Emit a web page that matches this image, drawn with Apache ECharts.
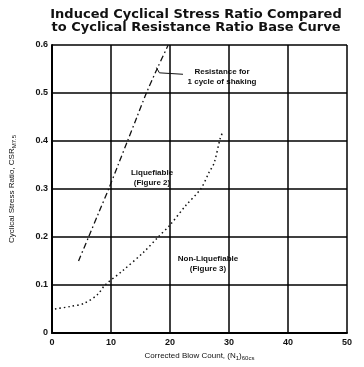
<!DOCTYPE html>
<html>
<head>
<meta charset="utf-8">
<script src="https://cdn.jsdelivr.net/npm/echarts@6/dist/echarts.min.js"></script>
<style>
  html, body { margin: 0; padding: 0; background: #fff; }
  #chart { width: 364px; height: 367px; }
</style>
</head>
<body>
<div id="chart"></div>
<script>
// Resistance for 1 cycle of shaking (dash-dot curve): [(N1)60cs, CSR]
const oneCycleCurve = [
  [4.5, 0.15], [6.2, 0.2], [7.9, 0.25], [9.6, 0.3], [11.2, 0.35],
  [12.8, 0.4], [14.4, 0.45], [16.0, 0.5], [17.8, 0.55], [19.7, 0.6]
];
// Cyclic resistance ratio base curve (dotted curve)
const baseCurve = [
  [0.5, 0.05], [3.0, 0.055], [5.5, 0.062], [7.7, 0.08], [9.0, 0.1],
  [12.0, 0.13], [15.5, 0.168], [18.0, 0.2], [20.0, 0.225], [22.7, 0.266],
  [25.2, 0.3], [26.6, 0.334], [27.5, 0.355], [28.5, 0.405], [29.0, 0.42]
];
// Leader from the dash-dot curve to its note
const leader = [[17.7, 0.553], [18.2, 0.542], [22.2, 0.539]];

const xTicks = [0, 10, 20, 30, 40, 50];
const yTicks = [0, 0.1, 0.2, 0.3, 0.4, 0.5, 0.6];

const titleLines = ['Induced Cyclical Stress Ratio Compared', 'to Cyclical Resistance Ratio Base Curve'];
const notes = {
  oneCycle: ['Resistance for', '1 cycle of shaking'],
  liq: ['Liquefiable', '(Figure 2)'],
  nonLiq: ['Non-Liquefiable', '(Figure 3)']
};

const chart = echarts.init(document.getElementById('chart'), null, { renderer: 'canvas' });
const FONT = 'Liberation Sans, Arial, sans-serif';
const TITLE_FONT = 'DejaVu Sans, Liberation Sans, sans-serif';

function note(lines, x, y) {
  return {
    type: 'text', x: x, y: y,
    style: {
      text: lines.join('\n'), font: 'bold 8px ' + FONT, fill: '#111',
      align: 'center', verticalAlign: 'middle', lineHeight: 10
    }
  };
}

chart.setOption({
  backgroundColor: '#ffffff',
  animation: false,
  title: {
    text: titleLines.join('\n'),
    left: 191,
    top: 3,
    textAlign: 'center',
    textStyle: { fontFamily: TITLE_FONT, fontWeight: 'bold', fontSize: 13, color: '#111', lineHeight: 13 }
  },
  grid: { left: 47, right: 17, top: 45, bottom: 34 },
  xAxis: {
    type: 'value',
    min: xTicks[0], max: xTicks[xTicks.length - 1], interval: 10,
    name: '{a|Corrected Blow Count, (N}{s|1}{a|)}{s|60cs}',
    nameLocation: 'middle',
    nameGap: 17,
    nameTextStyle: {
      rich: {
        a: { fontFamily: FONT, fontSize: 8, color: '#111' },
        s: { fontFamily: FONT, fontSize: 6, color: '#111', verticalAlign: 'bottom', padding: [4, 0, 0, 0] }
      }
    },
    axisLine: { show: true, lineStyle: { color: '#000', width: 2 } },
    axisTick: { show: false },
    axisLabel: { fontFamily: FONT, fontWeight: 'bold', fontSize: 9, color: '#111', margin: 5 },
    splitLine: { show: true, lineStyle: { color: '#000', width: 1.5 } }
  },
  yAxis: {
    type: 'value',
    min: yTicks[0], max: yTicks[yTicks.length - 1], interval: 0.1,
    name: '{a|Cyclical Stress Ratio, CSR}{s|M7.5}',
    nameLocation: 'middle',
    nameGap: 35,
    nameTextStyle: {
      rich: {
        a: { fontFamily: FONT, fontSize: 8, color: '#111' },
        s: { fontFamily: FONT, fontSize: 6, color: '#111', verticalAlign: 'bottom', padding: [4, 0, 0, 0] }
      }
    },
    axisLine: { show: true, lineStyle: { color: '#000', width: 2 } },
    axisTick: { show: false },
    axisLabel: {
      fontFamily: FONT, fontWeight: 'bold', fontSize: 9, color: '#111', margin: 4,
      formatter: v => (v === 0 ? '0' : v.toFixed(1))
    },
    splitLine: { show: true, lineStyle: { color: '#000', width: 1.5 } }
  },
  series: [
    {
      type: 'line', data: oneCycleCurve, smooth: 0.3, symbol: 'none',
      lineStyle: { color: '#111', width: 1.3, type: [6, 3, 1.5, 3] }
    },
    {
      type: 'line', data: baseCurve, smooth: 0.3, symbol: 'none',
      lineStyle: { color: '#111', width: 1.5, type: [1.5, 3] }
    },
    {
      type: 'line', data: leader, symbol: 'none',
      lineStyle: { color: '#111', width: 1 }
    }
  ],
  graphic: [
    note(notes.oneCycle, 222, 77),
    note(notes.liq, 152, 178),
    note(notes.nonLiq, 208, 264)
  ]
});
</script>
</body>
</html>
